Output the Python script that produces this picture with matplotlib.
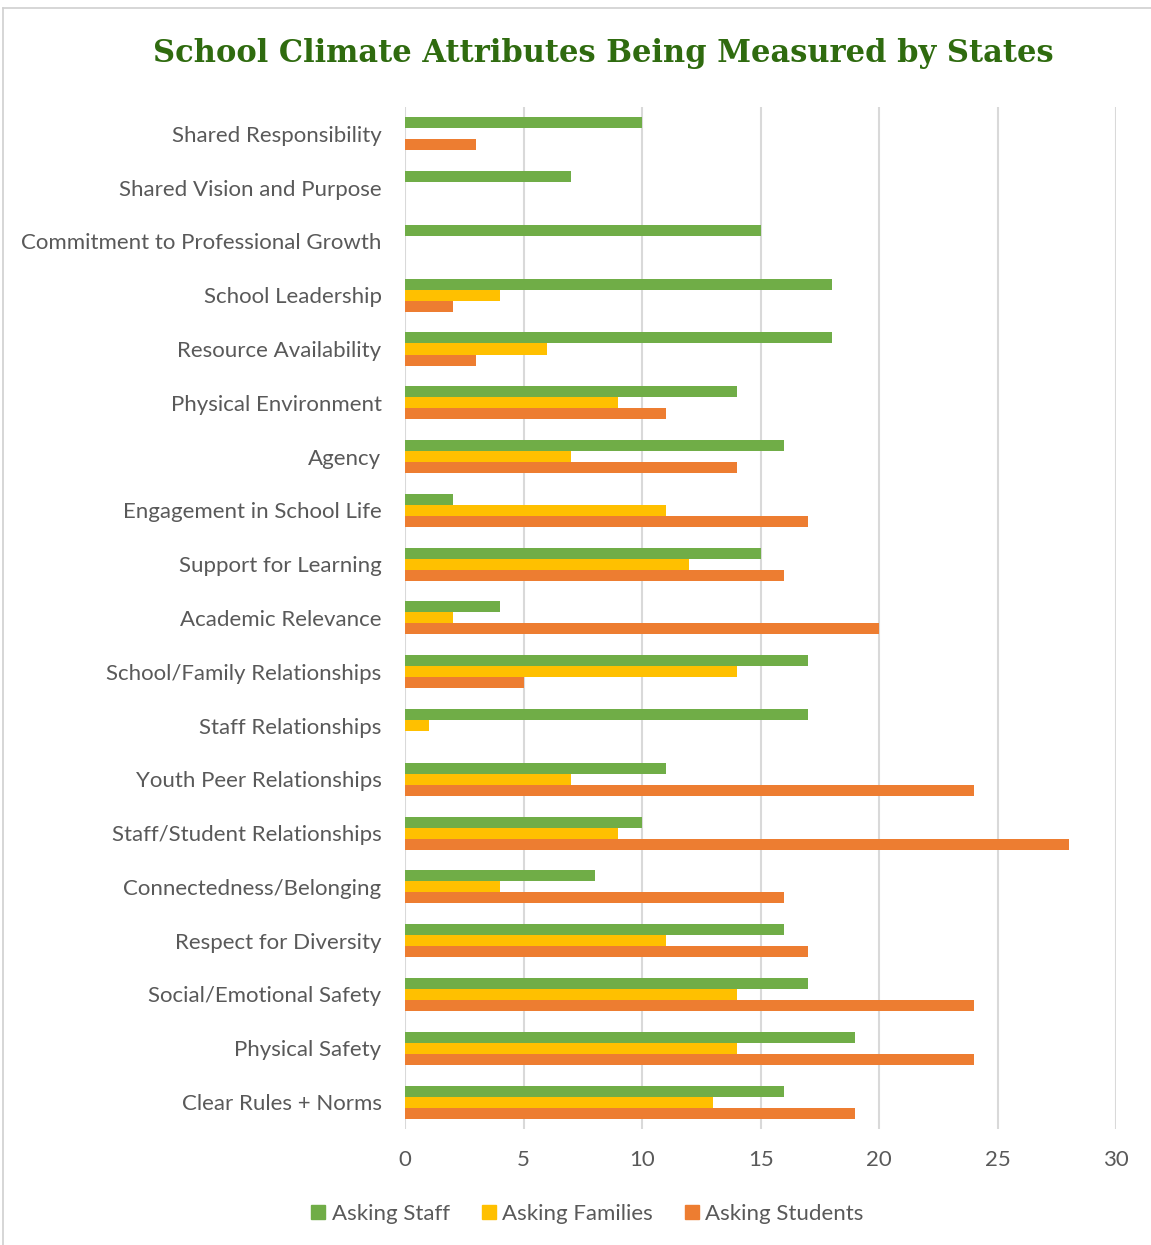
import matplotlib
matplotlib.use("Agg")
import matplotlib.pyplot as plt
import numpy as np
from matplotlib.lines import Line2D

plt.rcParams['font.family'] = ['Lato', 'DejaVu Sans']

# --- data (top to bottom as shown) ---
categories = [
    "Shared Responsibility", "Shared Vision and Purpose",
    "Commitment to Professional Growth", "School Leadership",
    "Resource Availability", "Physical Environment", "Agency",
    "Engagement in School Life", "Support for Learning",
    "Academic Relevance", "School/Family Relationships",
    "Staff Relationships", "Youth Peer Relationships",
    "Staff/Student Relationships", "Connectedness/Belonging",
    "Respect for Diversity", "Social/Emotional Safety",
    "Physical Safety", "Clear Rules + Norms",
]
staff =    [10, 7, 15, 18, 18, 14, 16, 2, 15, 4, 17, 17, 11, 10, 8, 16, 17, 19, 16]
families = [0, 0, 0, 4, 6, 9, 7, 11, 12, 2, 14, 1, 7, 9, 4, 11, 14, 14, 13]
students = [3, 0, 0, 2, 3, 11, 14, 17, 16, 20, 5, 0, 24, 28, 16, 17, 24, 24, 19]
series_names = ["Asking Staff", "Asking Families", "Asking Students"]
colors = ["#70AD47", "#FFC000", "#ED7D31"]
x_ticks = [0, 5, 10, 15, 20, 25, 30]

fig = plt.figure(figsize=(11.51, 12.45), dpi=100)
ax = fig.add_axes([0.352, 0.0932, 0.6176, 0.8209])

y = np.arange(len(categories))
h = 0.205
for vals, off, c in zip([staff, families, students], [-h, 0, h], colors):
    ax.barh(y + off, vals, height=h, color=c, zorder=3)

ax.set_xlim(0, 30)
ax.set_ylim(len(categories) - 0.5, -0.5)
ax.set_xticks(x_ticks)
ax.set_yticks(y)
ax.set_yticklabels(categories)
ax.tick_params(axis='both', length=0, labelsize=16, labelcolor="#595959")
ax.tick_params(axis='x', pad=15)
ax.tick_params(axis='y', pad=17)
ax.grid(axis='x', color="#D9D9D9", linewidth=1.5, zorder=0)
for s in ax.spines.values():
    s.set_visible(False)

fig.text(0.524, 0.957, "School Climate Attributes Being Measured by States",
         ha='center', va='center', fontsize=22, color="#2F6B0F",
         fontweight='bold', family=['DejaVu Serif'])

handles = [Line2D([], [], marker='s', linestyle='none', markersize=10,
                  markerfacecolor=c, markeredgecolor=c) for c in colors]
fig.legend(handles, series_names, loc='center', bbox_to_anchor=(0.51, 0.025),
           ncol=3, frameon=False, fontsize=16, labelcolor="#595959",
           handlelength=0.7, handletextpad=0.25, columnspacing=1.4)

# thin chart border (top and left visible)
fig.add_artist(Line2D([0.0026, 1.0], [0.9936, 0.9936], color="#D0D0D0", lw=1.2))
fig.add_artist(Line2D([0.0026, 0.0026], [0.0, 0.9936], color="#D0D0D0", lw=1.2))

fig.savefig("out.png", dpi=100)
